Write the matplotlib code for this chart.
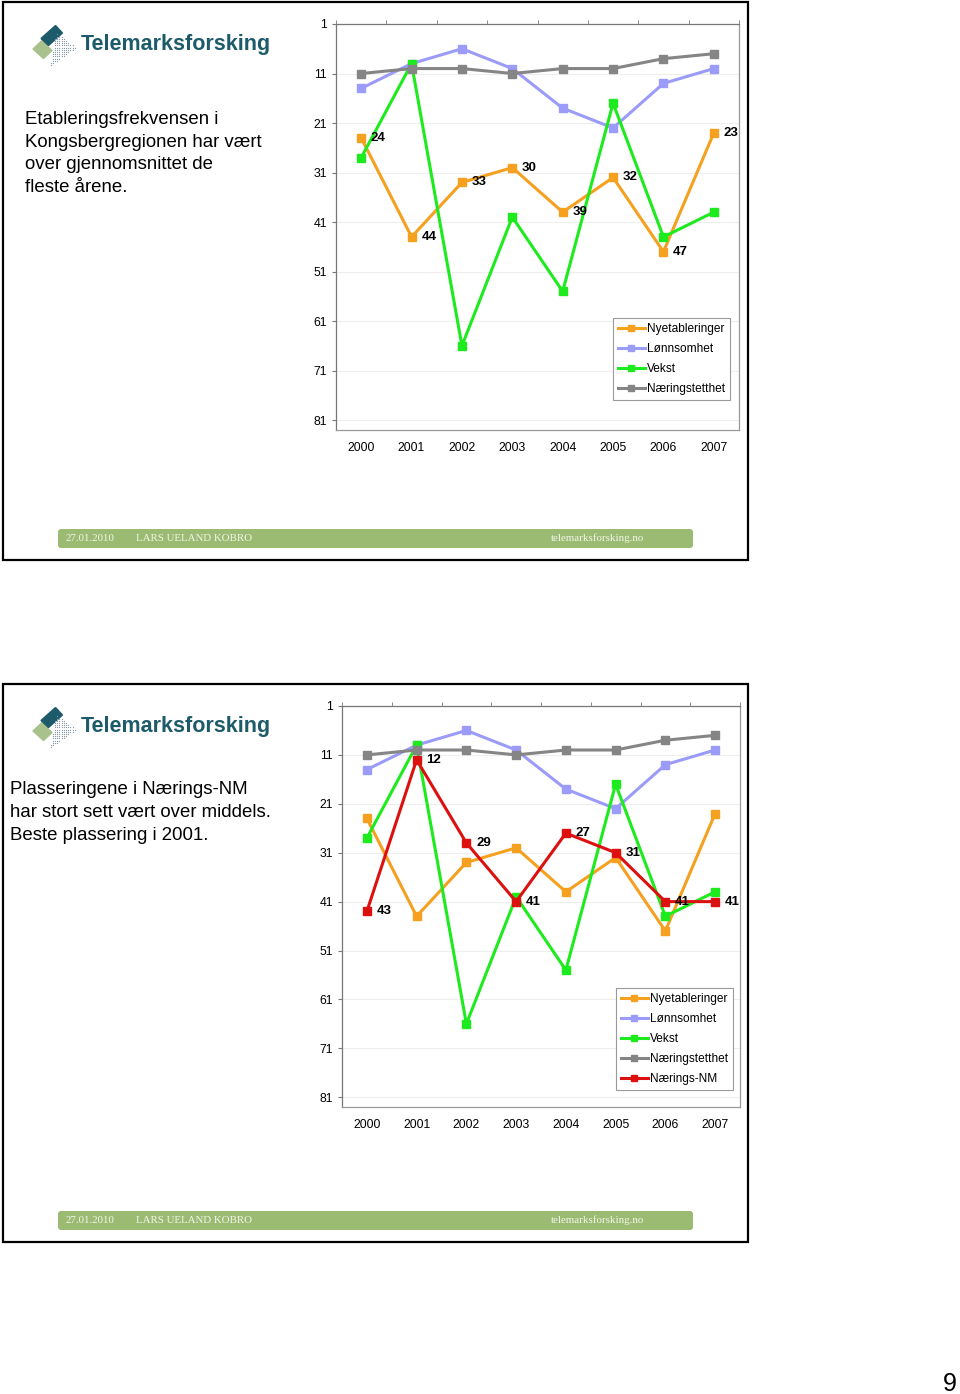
import numpy as np
import matplotlib.pyplot as plt
from matplotlib.path import Path
from matplotlib.patches import Rectangle, Polygon, FancyBboxPatch

plt.rcParams['font.family'] = ['Liberation Sans', 'DejaVu Sans']

W, H = 960, 1394

years = ['2000', '2001', '2002', '2003', '2004', '2005', '2006', '2007']
yticks = [1, 11, 21, 31, 41, 51, 61, 71, 81]

# rankings (lower is better)
nyetableringer = [24, 44, 33, 30, 39, 32, 47, 23]
lonnsomhet = [14, 9, 6, 10, 18, 22, 13, 10]
vekst = [28, 9, 66, 40, 55, 17, 44, 39]
naeringstetthet = [11, 10, 10, 11, 10, 10, 8, 7]
naerings_nm = [43, 12, 29, 41, 27, 31, 41, 41]

names = ['Nyetableringer', 'Lønnsomhet', 'Vekst', 'Næringstetthet', 'Nærings-NM']
colors = ['#F5A01E', '#9B9BFA', '#1EEB1E', '#858585', '#DD1010']

text1 = ['Etableringsfrekvensen i', 'Kongsbergregionen har vært',
         'over gjennomsnittet de', 'fleste årene.']
text2 = ['Plasseringene i Nærings-NM', 'har stort sett vært over middels.',
         'Beste plassering i 2001.']

footer_date = '27.01.2010'
footer_name = 'LARS UELAND KOBRO'
footer_web = 'telemarksforsking.no'


def px_rect(x0, y0, x1, y1):
    return [x0 / W, 1 - y1 / H, (x1 - x0) / W, (y1 - y0) / H]


fig = plt.figure(figsize=(W / 100, H / 100), dpi=100)
bg = fig.add_axes([0, 0, 1, 1])
bg.set_xlim(0, W)
bg.set_ylim(H, 0)
bg.axis('off')


def draw_logo(top):
    # teal bar, green block and dotted triangle
    teal = [(41.5, 36.5), (55.5, 24.0), (62.0, 31.0), (48.0, 43.5)]
    green = [(33, 47), (41.5, 39), (52, 48.5), (43.5, 56.5)]
    bg.add_patch(Polygon([(x, y + top) for x, y in teal], closed=True,
                         fc='#1D5B6B', ec='#1D5B6B', lw=1.5, joinstyle='round'))
    bg.add_patch(Polygon([(x, y + top) for x, y in green], closed=True,
                         fc='#A9C18C', ec='#A9C18C', lw=1, joinstyle='round'))
    tri = Path([(56, 30), (76, 46), (50, 64), (56, 30)])
    gx, gy = np.meshgrid(np.arange(44, 80, 2.2), np.arange(28, 66, 2.2))
    pts = np.column_stack([gx.ravel(), gy.ravel()])
    pts = pts[tri.contains_points(pts)]
    bg.scatter(pts[:, 0], pts[:, 1] + top, s=0.8, color='#8497A6', lw=0)
    bg.text(81, top + 42.5, 'Telemarksforsking', fontsize=15.5, fontweight='bold',
            color='#1D5B6B', va='center', ha='left')


def draw_slide(top, lines, tx, ty, step):
    bg.add_patch(Rectangle((3, top), 745, 558, fill=False, ec='black', lw=1.6))
    draw_logo(top)
    for i, line in enumerate(lines):
        bg.text(tx, top + ty + i * step, line, fontsize=13.4, va='center', ha='left')
    bg.add_patch(FancyBboxPatch((58, top + 527), 635, 19,
                                boxstyle='round,pad=0,rounding_size=3',
                                fc='#9CBB72', ec='none'))
    fkw = dict(fontsize=7.8, color='#F2F6EA', va='center', ha='left',
               family=['Liberation Serif', 'DejaVu Serif'])
    bg.text(66, top + 536.5, footer_date, **fkw)
    bg.text(136, top + 536.5, footer_name, **fkw)
    bg.text(551, top + 536.5, footer_web, **fkw)


def make_chart(rect, series, labelled, leg_xy):
    ax = fig.add_axes(px_rect(*rect))
    x = np.arange(len(years))
    for (name, vals, color) in series:
        ax.plot(x, vals, color=color, lw=2.2, marker='s', ms=5.5,
                mfc=color, mec=color, label=name, zorder=3)
    for i, v in enumerate(labelled):
        ax.annotate(str(v), (x[i], v), xytext=(7, 0), textcoords='offset points',
                    ha='left', va='center', fontsize=9.5, fontweight='bold', zorder=5)
    ax.set_xlim(-0.5, 7.5)
    ax.set_ylim(83, 1)
    ax.set_yticks(yticks)
    ax.set_xticks(x, years)
    ax.set_xticks(np.arange(-0.5, 8, 1), minor=True)
    ax.tick_params(axis='x', which='major', length=0, pad=8.5, labelsize=8.8)
    ax.tick_params(axis='x', which='minor', bottom=False, top=True, length=3,
                   color='#777777')
    ax.tick_params(axis='y', which='major', length=3, pad=3.5, labelsize=8.8,
                   color='#777777')
    ax.grid(axis='y', color='#EEEEEE', lw=0.8)
    ax.set_axisbelow(True)
    for side in ['left', 'top']:
        ax.spines[side].set_color('#777777')
        ax.spines[side].set_linewidth(0.9)
    for side in ['right', 'bottom']:
        ax.spines[side].set_color('#9A9A9A')
        ax.spines[side].set_linewidth(0.9)
    leg = ax.legend(loc='upper left', bbox_to_anchor=leg_xy, borderaxespad=0,
                    fontsize=8.6, handlelength=2.3, handletextpad=0.15,
                    borderpad=0.4, labelspacing=0.68, fancybox=False,
                    framealpha=1, edgecolor='#9A9A9A', markerscale=0.9)
    leg.get_frame().set_linewidth(0.8)
    return ax


# slide 1
draw_slide(2, text1, 25, 118, 22.4)
series1 = [(names[i], v, colors[i]) for i, v in
           enumerate([nyetableringer, lonnsomhet, vekst, naeringstetthet])]
make_chart((336, 24, 739, 430), series1, nyetableringer, (0.687, 0.276))

# slide 2
draw_slide(684, text2, 10, 106, 22.5)
series2 = [(names[i], v, colors[i]) for i, v in
           enumerate([nyetableringer, lonnsomhet, vekst, naeringstetthet, naerings_nm])]
make_chart((342, 706, 740, 1107), series2, naerings_nm, (0.688, 0.297))

bg.text(950, 1384, '9', fontsize=18, ha='center', va='center')

fig.savefig('out.png', dpi=100)
